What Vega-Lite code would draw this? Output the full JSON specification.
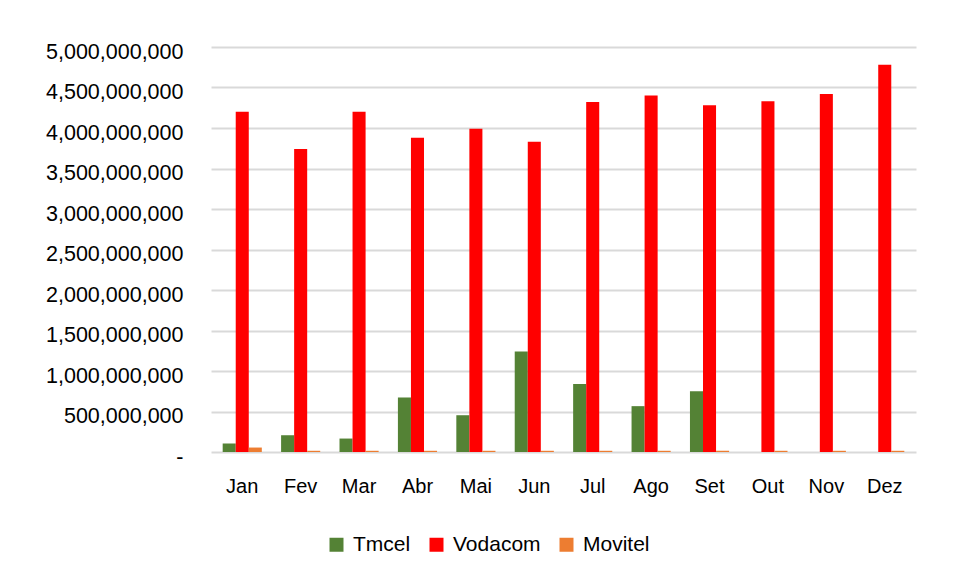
{
  "$schema": "https://vega.github.io/schema/vega-lite/v6.json",
  "autosize": "none",
  "width": 705,
  "height": 405,
  "padding": {"left": 211, "top": 47, "right": 40, "bottom": 128},
  "background": "white",
  "data": {
    "values": [
      {"month": "Jan", "operator": "Tmcel", "value": 105000000},
      {"month": "Jan", "operator": "Vodacom", "value": 4200000000},
      {"month": "Jan", "operator": "Movitel", "value": 55000000},
      {"month": "Fev", "operator": "Tmcel", "value": 207000000},
      {"month": "Fev", "operator": "Vodacom", "value": 3740000000},
      {"month": "Fev", "operator": "Movitel", "value": 15000000},
      {"month": "Mar", "operator": "Tmcel", "value": 166000000},
      {"month": "Mar", "operator": "Vodacom", "value": 4200000000},
      {"month": "Mar", "operator": "Movitel", "value": 15000000},
      {"month": "Abr", "operator": "Tmcel", "value": 673000000},
      {"month": "Abr", "operator": "Vodacom", "value": 3880000000},
      {"month": "Abr", "operator": "Movitel", "value": 15000000},
      {"month": "Mai", "operator": "Tmcel", "value": 454000000},
      {"month": "Mai", "operator": "Vodacom", "value": 3990000000},
      {"month": "Mai", "operator": "Movitel", "value": 15000000},
      {"month": "Jun", "operator": "Tmcel", "value": 1240000000},
      {"month": "Jun", "operator": "Vodacom", "value": 3830000000},
      {"month": "Jun", "operator": "Movitel", "value": 15000000},
      {"month": "Jul", "operator": "Tmcel", "value": 840000000},
      {"month": "Jul", "operator": "Vodacom", "value": 4320000000},
      {"month": "Jul", "operator": "Movitel", "value": 15000000},
      {"month": "Ago", "operator": "Tmcel", "value": 566000000},
      {"month": "Ago", "operator": "Vodacom", "value": 4400000000},
      {"month": "Ago", "operator": "Movitel", "value": 15000000},
      {"month": "Set", "operator": "Tmcel", "value": 750000000},
      {"month": "Set", "operator": "Vodacom", "value": 4280000000},
      {"month": "Set", "operator": "Movitel", "value": 15000000},
      {"month": "Out", "operator": "Tmcel", "value": 0},
      {"month": "Out", "operator": "Vodacom", "value": 4330000000},
      {"month": "Out", "operator": "Movitel", "value": 15000000},
      {"month": "Nov", "operator": "Tmcel", "value": 0},
      {"month": "Nov", "operator": "Vodacom", "value": 4420000000},
      {"month": "Nov", "operator": "Movitel", "value": 15000000},
      {"month": "Dez", "operator": "Tmcel", "value": 0},
      {"month": "Dez", "operator": "Vodacom", "value": 4780000000},
      {"month": "Dez", "operator": "Movitel", "value": 15000000}
    ]
  },
  "mark": {"type": "bar", "stroke": null},
  "encoding": {
    "x": {
      "field": "month",
      "type": "nominal",
      "sort": ["Jan","Fev","Mar","Abr","Mai","Jun","Jul","Ago","Set","Out","Nov","Dez"],
      "scale": {"paddingInner": 0.33, "paddingOuter": 0.2},
      "axis": {
        "title": null,
        "labelAngle": 0,
        "labelFont": "Liberation Sans",
        "labelFontSize": 20,
        "labelColor": "#000000",
        "labelPadding": 24,
        "domain": false,
        "ticks": false
      }
    },
    "xOffset": {
      "field": "operator",
      "type": "nominal",
      "sort": ["Tmcel","Vodacom","Movitel"],
      "scale": {"paddingInner": 0, "paddingOuter": 0}
    },
    "y": {
      "field": "value",
      "type": "quantitative",
      "scale": {"domain": [0, 5000000000], "nice": false},
      "axis": {
        "title": null,
        "values": [0,500000000,1000000000,1500000000,2000000000,2500000000,3000000000,3500000000,4000000000,4500000000,5000000000],
        "labelExpr": "datum.value == 0 ? '-\u00a0\u00a0' : format(datum.value, ',')",
        "labelFont": "Liberation Sans",
        "labelFontSize": 21.5,
        "labelColor": "#000000",
        "labelPadding": 28,
        "labelOffset": 5,
        "domain": false,
        "ticks": false,
        "gridColor": "#d9d9d9",
        "gridWidth": 2
      }
    },
    "color": {
      "field": "operator",
      "type": "nominal",
      "sort": ["Tmcel","Vodacom","Movitel"],
      "scale": {"domain": ["Tmcel","Vodacom","Movitel"], "range": ["#548235","#ff0000","#ed7d31"]},
      "legend": {
        "title": null,
        "orient": "none",
        "direction": "horizontal",
        "legendX": 115,
        "legendY": 487,
        "symbolType": "square",
        "symbolSize": 196,
        "symbolStrokeWidth": 0,
        "labelFont": "Liberation Sans",
        "labelFontSize": 21,
        "labelColor": "#000000",
        "labelOffset": 6,
        "columnPadding": 15
      }
    }
  },
  "config": {"view": {"stroke": null}}
}
